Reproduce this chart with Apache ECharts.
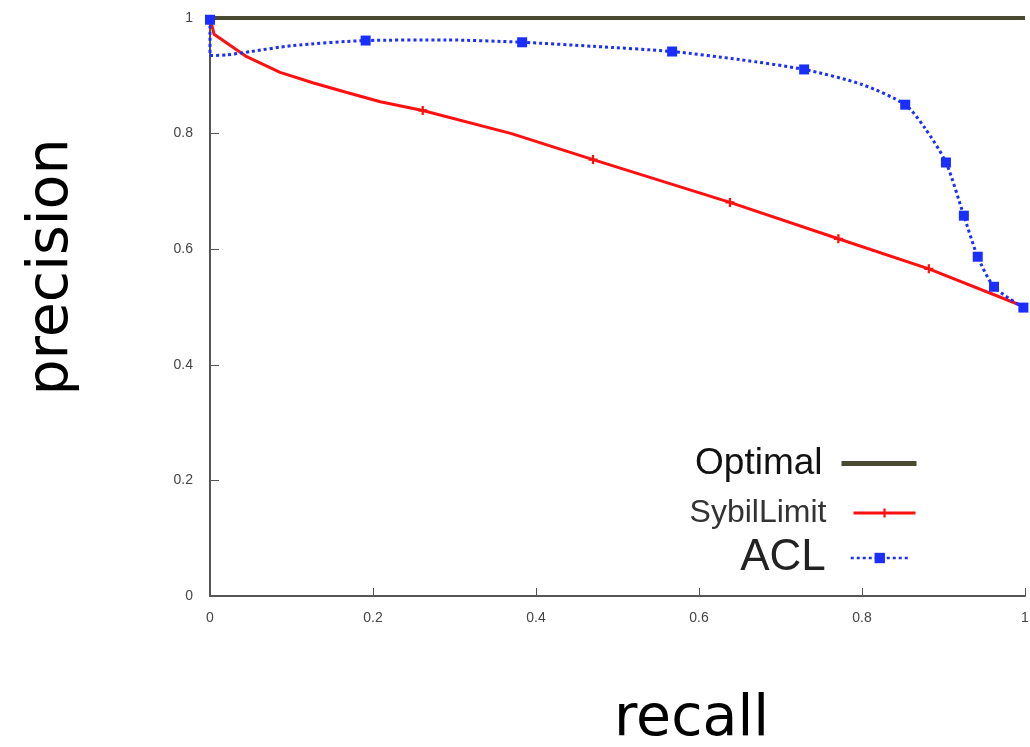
<!DOCTYPE html>
<html>
<head>
<meta charset="utf-8">
<script src="https://cdn.jsdelivr.net/npm/echarts@6/dist/echarts.min.js"></script>
<style>
  html, body { margin: 0; padding: 0; background: #fff; }
  #chart { width: 1030px; height: 747px; }
</style>
</head>
<body>
<div id="chart"></div>
<script>
// recall / precision values
const optimalX = [0, 1];
const optimalY = [1, 1];

const sybilX = [0, 0.005, 0.045, 0.086, 0.126, 0.168, 0.209, 0.261, 0.37, 0.47, 0.638, 0.771, 0.882, 1.0];
const sybilY = [1.0, 0.972, 0.933, 0.906, 0.888, 0.871, 0.855, 0.84, 0.80, 0.755, 0.681, 0.618, 0.566, 0.5];
const sybilMarks = [7, 9, 10, 11, 12];

const aclX = [0, 0, 0.02, 0.05, 0.10, 0.191, 0.29, 0.383, 0.47, 0.567, 0.65, 0.729, 0.80, 0.853, 0.877, 0.903, 0.925, 0.942, 0.962, 0.998];
const aclY = [0.997, 0.935, 0.936, 0.942, 0.952, 0.961, 0.962, 0.958, 0.951, 0.942, 0.928, 0.911, 0.885, 0.850, 0.810, 0.750, 0.658, 0.587, 0.535, 0.499];
const aclMarks = [0, 5, 7, 9, 11, 13, 15, 16, 17, 18, 19];

// points not in the marks list are drawn without a symbol
function points(xs, ys, marks) {
  return xs.map((x, i) => marks && !marks.includes(i)
    ? { value: [x, ys[i]], symbol: 'none' }
    : [x, ys[i]]);
}

const plusIcon = 'path://M-1,-4h2v3h3v2h-3v3h-2v-3h-3v-2h3z';

const chart = echarts.init(document.getElementById('chart'));
chart.setOption({
  animation: false,
  grid: { left: 210, right: 5, top: 18, bottom: 151, outerBoundsMode: 'none' },
  legend: [
    {
      data: ['Optimal'], orient: 'vertical', align: 'right',
      right: 106, top: 440, itemWidth: 75, itemHeight: 14,
      itemStyle: { opacity: 0 },
      lineStyle: { width: 5 },
      textStyle: { fontSize: 37, color: '#111', fontFamily: 'Liberation Sans', padding: [0, 14, 0, 0] }
    },
    {
      data: ['SybilLimit'], orient: 'vertical', align: 'right',
      right: 108, top: 492, itemWidth: 62, itemHeight: 11,
      lineStyle: { width: 3 },
      textStyle: { fontSize: 32, color: '#333', fontFamily: 'Liberation Sans', padding: [0, 22, 0, 0] }
    },
    {
      data: ['ACL'], orient: 'vertical', align: 'right',
      right: 115, top: 531, itemWidth: 58, itemHeight: 13,
      lineStyle: { width: 2.5 },
      textStyle: { fontSize: 44, color: '#222', fontFamily: 'Liberation Sans', padding: [0, 20, 0, 0] }
    }
  ],
  xAxis: {
    type: 'value', min: 0, max: 1, interval: 0.2,
    name: 'recall', nameLocation: 'middle', nameGap: 96,
    nameTextStyle: { fontSize: 57, color: '#000', fontFamily: 'DejaVu Sans', padding: [0, 0, 0, 148] },
    axisLine: { lineStyle: { color: '#555', width: 2 } },
    axisTick: { inside: true, length: 8, lineStyle: { color: '#555' } },
    axisLabel: { color: '#444', fontSize: 14, fontFamily: 'Liberation Sans', margin: 15 },
    splitLine: { show: false }
  },
  yAxis: {
    type: 'value', min: 0, max: 1, interval: 0.2,
    name: 'precision', nameLocation: 'middle', nameGap: 129, nameRotate: 90,
    nameTextStyle: { fontSize: 57, color: '#000', fontFamily: 'DejaVu Sans', padding: [0, 0, 0, 80] },
    axisLine: { show: true, lineStyle: { color: '#555', width: 2 } },
    axisTick: { show: true, inside: true, length: 9, lineStyle: { color: '#555' } },
    axisLabel: { color: '#444', fontSize: 14, fontFamily: 'Liberation Sans', margin: 17 },
    splitLine: { show: false }
  },
  series: [
    {
      name: 'Optimal', type: 'line', data: points(optimalX, optimalY),
      symbol: 'none', clip: false,
      lineStyle: { color: '#4a4a33', width: 4 },
      itemStyle: { color: '#4a4a33' }
    },
    {
      name: 'SybilLimit', type: 'line', data: points(sybilX, sybilY, sybilMarks),
      symbol: plusIcon, symbolSize: 9, showAllSymbol: true,
      lineStyle: { color: '#ff1010', width: 3 },
      itemStyle: { color: '#ff1010' }
    },
    {
      name: 'ACL', type: 'line', data: points(aclX, aclY, aclMarks),
      smooth: 0.25,
      symbol: 'rect', symbolSize: 10, showAllSymbol: true,
      lineStyle: { color: '#1a2eff', width: 3, type: [3, 3] },
      itemStyle: { color: '#1a2eff' }
    }
  ]
});
</script>
</body>
</html>
